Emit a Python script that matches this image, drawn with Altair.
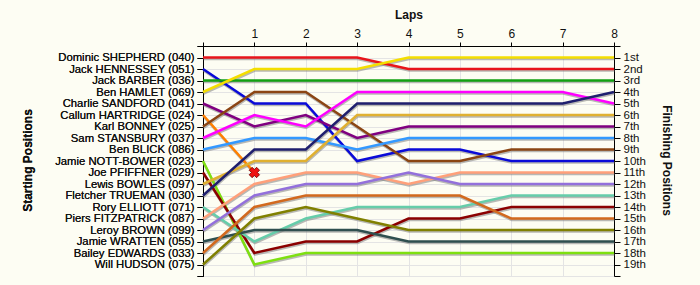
import altair as alt
import pandas as pd

drivers = [
    "Dominic SHEPHERD (040)", "Jack HENNESSEY (051)", "Jack BARBER (036)",
    "Ben HAMLET (069)", "Charlie SANDFORD (041)", "Callum HARTRIDGE (024)",
    "Karl BONNEY (025)", "Sam STANSBURY (037)", "Ben BLICK (086)",
    "Jamie NOTT-BOWER (023)", "Joe PFIFFNER (029)", "Lewis BOWLES (097)",
    "Fletcher TRUEMAN (030)", "Rory ELLIOTT (071)", "Piers FITZPATRICK (087)",
    "Leroy BROWN (099)", "Jamie WRATTEN (055)", "Bailey EDWARDS (033)",
    "Will HUDSON (075)",
]
colors = [
    "#e8141a", "#0a0ad8", "#12a012", "#f4de00", "#800080", "#ff8000",
    "#8b4513", "#ff00ff", "#3399ff", "#7ee010", "#8b0000", "#e0b030",
    "#1f1f6e", "#66cdaa", "#ffa07a", "#9370db", "#2f4f4f", "#d2691e",
    "#808000",
]
# positions per lap (lap 0 = start ... lap 8)
positions = [
    [1, 1, 1, 1, 2, 2, 2, 2, 2],
    [2, 5, 5, 10, 9, 9, 10, 10, 10],
    [3, 3, 3, 3, 3, 3, 3, 3, 3],
    [4, 2, 2, 2, 1, 1, 1, 1, 1],
    [5, 7, 6, 8, 7, 7, 7, 7, 7],
    [6, 11],
    [7, 4, 4, 7, 10, 10, 9, 9, 9],
    [8, 6, 7, 4, 4, 4, 4, 4, 5],
    [9, 8, 8, 9, 8, 8, 8, 8, 8],
    [10, 19, 18, 18, 18, 18, 18, 18, 18],
    [11, 18, 17, 17, 15, 15, 14, 14, 14],
    [12, 10, 10, 6, 6, 6, 6, 6, 6],
    [13, 9, 9, 5, 5, 5, 5, 5, 4],
    [14, 17, 15, 14, 14, 14, 13, 13, 13],
    [15, 12, 11, 11, 12, 11, 11, 11, 11],
    [16, 13, 12, 12, 11, 12, 12, 12, 12],
    [17, 16, 16, 16, 17, 17, 17, 17, 17],
    [18, 14, 13, 13, 13, 13, 15, 15, 15],
    [19, 15, 14, 15, 16, 16, 16, 16, 16],
]
retired = ["Callum HARTRIDGE (024)"]
finish_labels = ["1st", "2nd", "3rd"] + [f"{i}th" for i in range(4, 20)]

rows = []
for d, ps in zip(drivers, positions):
    for lap, p in enumerate(ps):
        rows.append({"driver": d, "lap": lap, "pos": p,
                     "last": lap == len(ps) - 1})
df = pd.DataFrame(rows)
ret_df = df[(df["driver"].isin(retired)) & (df["last"])]

names_js = "[" + ",".join("'" + n + "'" for n in drivers) + "]"
fin_js = "[" + ",".join("'" + n + "'" for n in finish_labels) + "]"

FONT = "Liberation Sans"
yscale = alt.Scale(domain=[0, 20], reverse=True, nice=False, zero=False)
xscale = alt.Scale(domain=[0, 8], nice=False)

x_top = alt.X("lap:Q", scale=xscale, axis=alt.Axis(
    orient="top", values=list(range(9)),
    labelExpr="datum.value == 0 ? '' : datum.value",
    title="Laps", titleFontWeight="bold", titleFontSize=12, titleFont=FONT,
    labelFont=FONT, labelFontSize=12, labelColor="#111", titleColor="#111",
    tickSize=4, tickColor="black", domainColor="black", labelPadding=2,
    titlePadding=6, grid=True, gridColor="#e4e4e4", labelFlush=False))

y_left = alt.Y("pos:Q", scale=yscale, axis=alt.Axis(
    orient="left", values=list(range(21)),
    labelExpr=f"(datum.value >= 1 && datum.value <= 19) ? {names_js}[datum.value - 1] : ''",
    title="Starting Positions", titleFontWeight="bold", titleFontSize=12,
    titleFont=FONT, titleX=-176, titleY=114, titleAngle=-90,
    titleAlign="center", titleBaseline="middle",
    labelFont=FONT, labelFontSize=11.3, labelColor="#111", titleColor="#111",
    tickSize=6, tickColor="black", domainColor="black", labelPadding=3,
    grid=True, gridColor="#e4e4e4", labelFlush=False, labelOverlap=False))

y_right = alt.Y("pos:Q", scale=yscale, axis=alt.Axis(
    orient="right", values=list(range(21)),
    labelExpr=f"(datum.value >= 1 && datum.value <= 19) ? {fin_js}[datum.value - 1] : ''",
    title="Finishing Positions", titleFontWeight="bold", titleFontSize=12,
    titleFont=FONT, titleX=52, titleY=114, titleAngle=90,
    titleAlign="center", titleBaseline="middle",
    labelFont=FONT, labelFontSize=11.5, labelColor="#111", titleColor="#111",
    tickSize=6, tickColor="black", domainColor="black", labelPadding=3,
    grid=False, labelFlush=False, labelOverlap=False))

shadow = alt.Chart(df).mark_line(
    color="#808080", opacity=0.55, strokeWidth=2.5, yOffset=1.5, xOffset=0.5
).encode(
    x=x_top,
    y=y_right,
    detail="driver:N",
)

lines = alt.Chart(df).mark_line(strokeWidth=2.5).encode(
    x=x_top,
    y=y_left,
    color=alt.Color("driver:N", scale=alt.Scale(domain=drivers, range=colors),
                    legend=None),
)

marker = alt.Chart(ret_df).mark_point(
    shape="cross", angle=45, filled=True, fill="#ee1111", stroke="#700000",
    strokeWidth=0.8, size=110, opacity=1
).encode(
    x=x_top,
    y=y_left,
)

chart = alt.layer(shadow, lines, marker).resolve_axis(y="independent").properties(
    width=411, height=230,
    padding={"left": 203, "top": 46, "right": 86, "bottom": 9},
    autosize="none",
    background="#fdfdf3",
).configure_view(stroke=None)

chart.save("out.html", embed_options={"renderer": "svg", "actions": False})
